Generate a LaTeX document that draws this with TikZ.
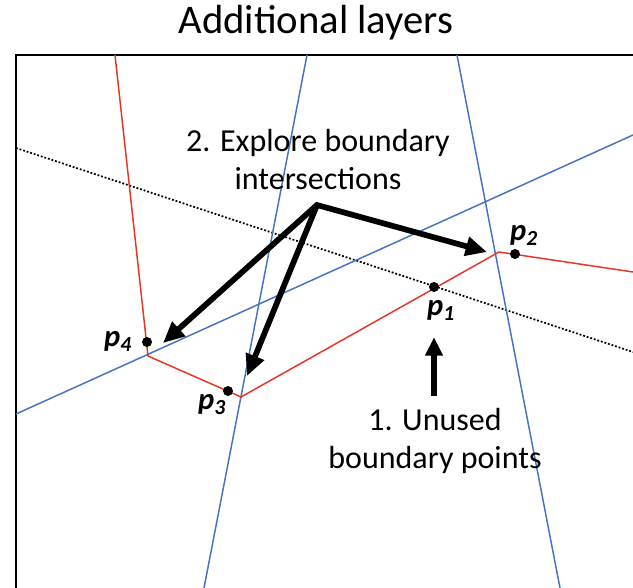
\documentclass[tikz,border=0pt]{standalone}
\usepackage{fontspec}
\setmainfont{Carlito}
\usetikzlibrary{arrows.meta,positioning}
\definecolor{bndred}{RGB}{232,52,36}
\definecolor{bndblue}{RGB}{68,114,196}

\begin{document}
\begin{tikzpicture}[x=0.75pt,y=-0.75pt,
  redline/.style={draw=bndred,line width=1.1pt},
  blueline/.style={draw=bndblue,line width=1.1pt},
  dotline/.style={draw=black,line width=1.3pt,dash pattern=on 1.4pt off 1.4pt},
  bdot/.style={shape=circle,fill=black,inner sep=0pt,minimum size=7.5pt},
  plabel/.style={font=\fontsize{23}{23}\selectfont\bfseries\itshape},
  note/.style={align=center,font=\fontsize{24}{28.5}\selectfont},
  bigarrow/.style={line width=4.3pt,line join=miter}]
\useasboundingbox (0,0) rectangle (633,588);
\node(title) at (316,23) [font=\fontsize{30.5}{30.5}\selectfont] {Additional layers};
\draw [line width=1.5pt] (16,588) -- (16,55) -- (633,55);
% boundaries
\draw [dotline] (16,148) -- (633,352);
\draw [blueline] (307,55) -- (204,588);
\draw [blueline] (457,55) -- (560,588);
\draw [blueline] (16,414) -- (633,135);
\draw [redline] (115,55) -- (148,356) -- (241,397) -- (499,252) -- (633,272);
% points
\node(p1) at (434,287) [bdot] {};
\node(p2) at (515,254) [bdot] {};
\node(p3) at (228,391) [bdot] {};
\node(p4) at (147,342) [bdot] {};
\node(lp1) at (441,310) [plabel] {p\textsubscript{1}};
\node(lp2) at (524,235) [plabel] {p\textsubscript{2}};
\node(lp3) at (212,405) [plabel] {p\textsubscript{3}};
\node(lp4) at (118,341) [plabel] {p\textsubscript{4}};
% notes
\node(explore) at (318,160) [note] {2. Explore boundary\\intersections};
\node(unused) at (435,441) [note] {1. Unused\\boundary points};
\coordinate(hub) at (317,205);
\coordinate(a4) at (163,343);
\coordinate(a3) at (247,376);
\coordinate(a2) at (487,252);
\coordinate(a1) at (434,337);
\draw [bigarrow,{Triangle[length=16pt,width=14pt]}-{Triangle[length=16pt,width=14pt]}] (a4) -- (hub) -- (a2);
\draw [bigarrow,-{Triangle[length=16pt,width=14pt]}] (hub) -- (a3);
\draw [bigarrow,-{Triangle[length=14pt,width=12.5pt]}] (a1 |- 0,396) -- (a1);
\end{tikzpicture}
\end{document}
